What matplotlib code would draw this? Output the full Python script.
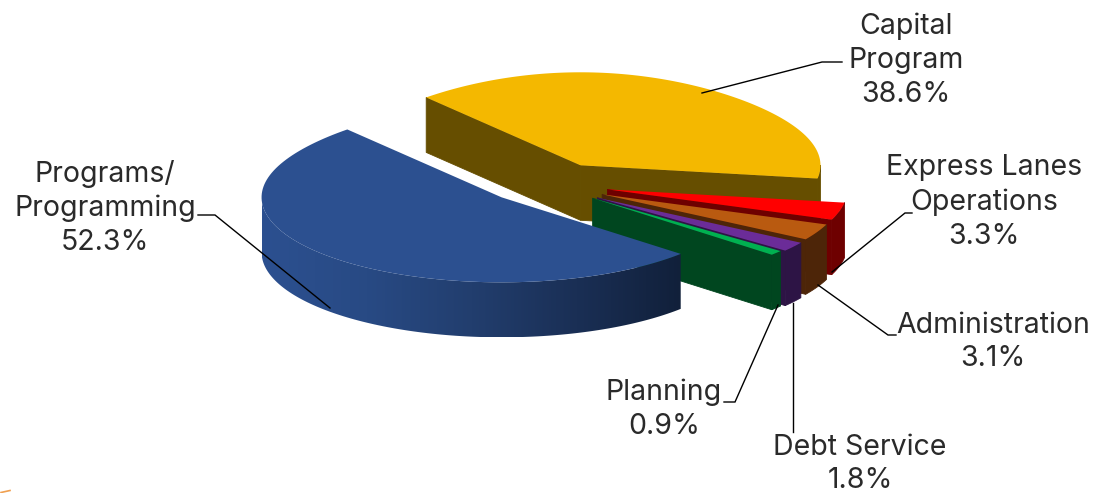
import numpy as np
import matplotlib
matplotlib.use("Agg")
import matplotlib.pyplot as plt
from matplotlib.colors import LinearSegmentedColormap
from matplotlib.patches import Polygon

# valores del grafico
categories = ["Capital\nProgram", "Express Lanes\nOperations", "Administration",
              "Debt Service", "Planning", "Programs/\nProgramming"]
values = [38.6, 3.3, 3.1, 1.8, 0.9, 52.3]
# orden de dibujo en sentido horario, igual que en el original
slices = ["capital", "express", "admin", "debt", "planning", "programs"]

top_colors = ["#F4B800", "#FF0000", "#B95A10", "#6B2C98", "#00B050", "#2C5090"]
side_colors = ["#664E00", "#6E0000", "#4D2508", "#2D1445", "#00461F", "#2C5090"]
gradient_colors = ["#2C5090", "#284A84", "#223E6E", "#1A2F55", "#11203A"]

# geometria de la elipse, en pixeles
center_x, center_y = 547.5, 182.7
radius_x, radius_y = 240, 85
back_bulge = 8
depth = 55
start_angle = 130
explode_x = [67, 62, 61, 61, 59, 64]
explode_y = [20, 26, 26, 26, 24, 21]

label_pos = [(906, 59), (984, 201), (993, 341), (860, 463), (664, 408), (105, 207)]
leaders = [
    [(702, 93), (822, 62), (842, 62)],
    [(832, 272), (905, 213), (912, 213)],
    [(818, 285), (888, 335), (896, 335)],
    [(793, 303), (793, 432)],
    [(778, 305), (735, 402), (724, 402)],
    [(330, 308), (215, 215), (198, 215)],
]


def rim(cx, cy, a0, a1, n=120):
    t = np.radians(np.linspace(a0, a1, n))
    s = np.sin(t)
    # la parte de atras se ve algo mas alta por la perspectiva
    ry = radius_y + back_bulge * np.clip(s, 0, 1) ** 3
    return np.column_stack([cx + radius_x * np.cos(t), cy - ry * s])


def extrude(points):
    points = np.asarray(points)
    return np.vstack([points, points[::-1] + [0, depth]])


fig = plt.figure(figsize=(10.94, 4.93), dpi=100)
ax = fig.add_axes([0, 0, 1, 1])
ax.set_xlim(0, 1094)
ax.set_ylim(493, 0)
ax.axis("off")

cmap = LinearSegmentedColormap.from_list("lado", gradient_colors)
angle = start_angle
z = 2
for i, value in enumerate(values):
    end = angle - value * 3.6
    mid = np.radians((angle + end) / 2)
    cx = center_x + explode_x[i] * np.cos(mid)
    cy = center_y - explode_y[i] * np.sin(mid)
    apex = (cx, cy)

    # caras de corte
    if slices[i] == "capital":
        start_pt = rim(cx, cy, angle, angle, 1)[0]
        ax.add_patch(Polygon(extrude([start_pt, apex]), fc=side_colors[i],
                             ec=side_colors[i], lw=0.6, zorder=z))
    if slices[i] != "programs":
        end_pt = rim(cx, cy, end, end, 1)[0]
        ax.add_patch(Polygon(extrude([apex, end_pt]), fc=side_colors[i],
                             ec=side_colors[i], lw=0.6, zorder=z))

    # lado exterior, solo la mitad delantera de la elipse
    a0 = min(angle, 0)
    a1 = max(end, -180)
    if a0 > a1:
        side = extrude(rim(cx, cy, a0, a1))
        if slices[i] == "programs":
            patch = Polygon(side, closed=True, fc="none", ec="none", zorder=z)
            ax.add_patch(patch)
            grad = np.linspace(0, 1, 256).reshape(1, -1)
            im = ax.imshow(grad, cmap=cmap, aspect="auto", zorder=z,
                           extent=(side[:, 0].min(), side[:, 0].max(),
                                   side[:, 1].max(), side[:, 1].min()))
            im.set_clip_path(patch)
            ax.set_xlim(0, 1094)
            ax.set_ylim(493, 0)
        else:
            ax.add_patch(Polygon(side, fc=side_colors[i], ec=side_colors[i], lw=0.6, zorder=z))

    # cara superior
    top = np.vstack([[apex], rim(cx, cy, angle, end)])
    ax.add_patch(Polygon(top, color=top_colors[i], lw=0, zorder=z + 1))
    z += 2
    angle = end

for line in leaders:
    xs, ys = zip(*line)
    ax.plot(xs, ys, color="black", lw=1, zorder=30, solid_joinstyle="miter")

for name, value, pos in zip(categories, values, label_pos):
    ax.text(pos[0], pos[1] + 1, f"{name}\n{value:.1f}%", ha="center", va="center",
            ma="center", family="Inter", fontsize=20.5, color="#2A2A2A",
            linespacing=1.33, zorder=31)

# resto del logo recortado abajo a la izquierda
ax.plot([1, 10], [492.5, 490.5], color="#F0A050", lw=1.2, zorder=31)

fig.savefig("out.png", dpi=100)
